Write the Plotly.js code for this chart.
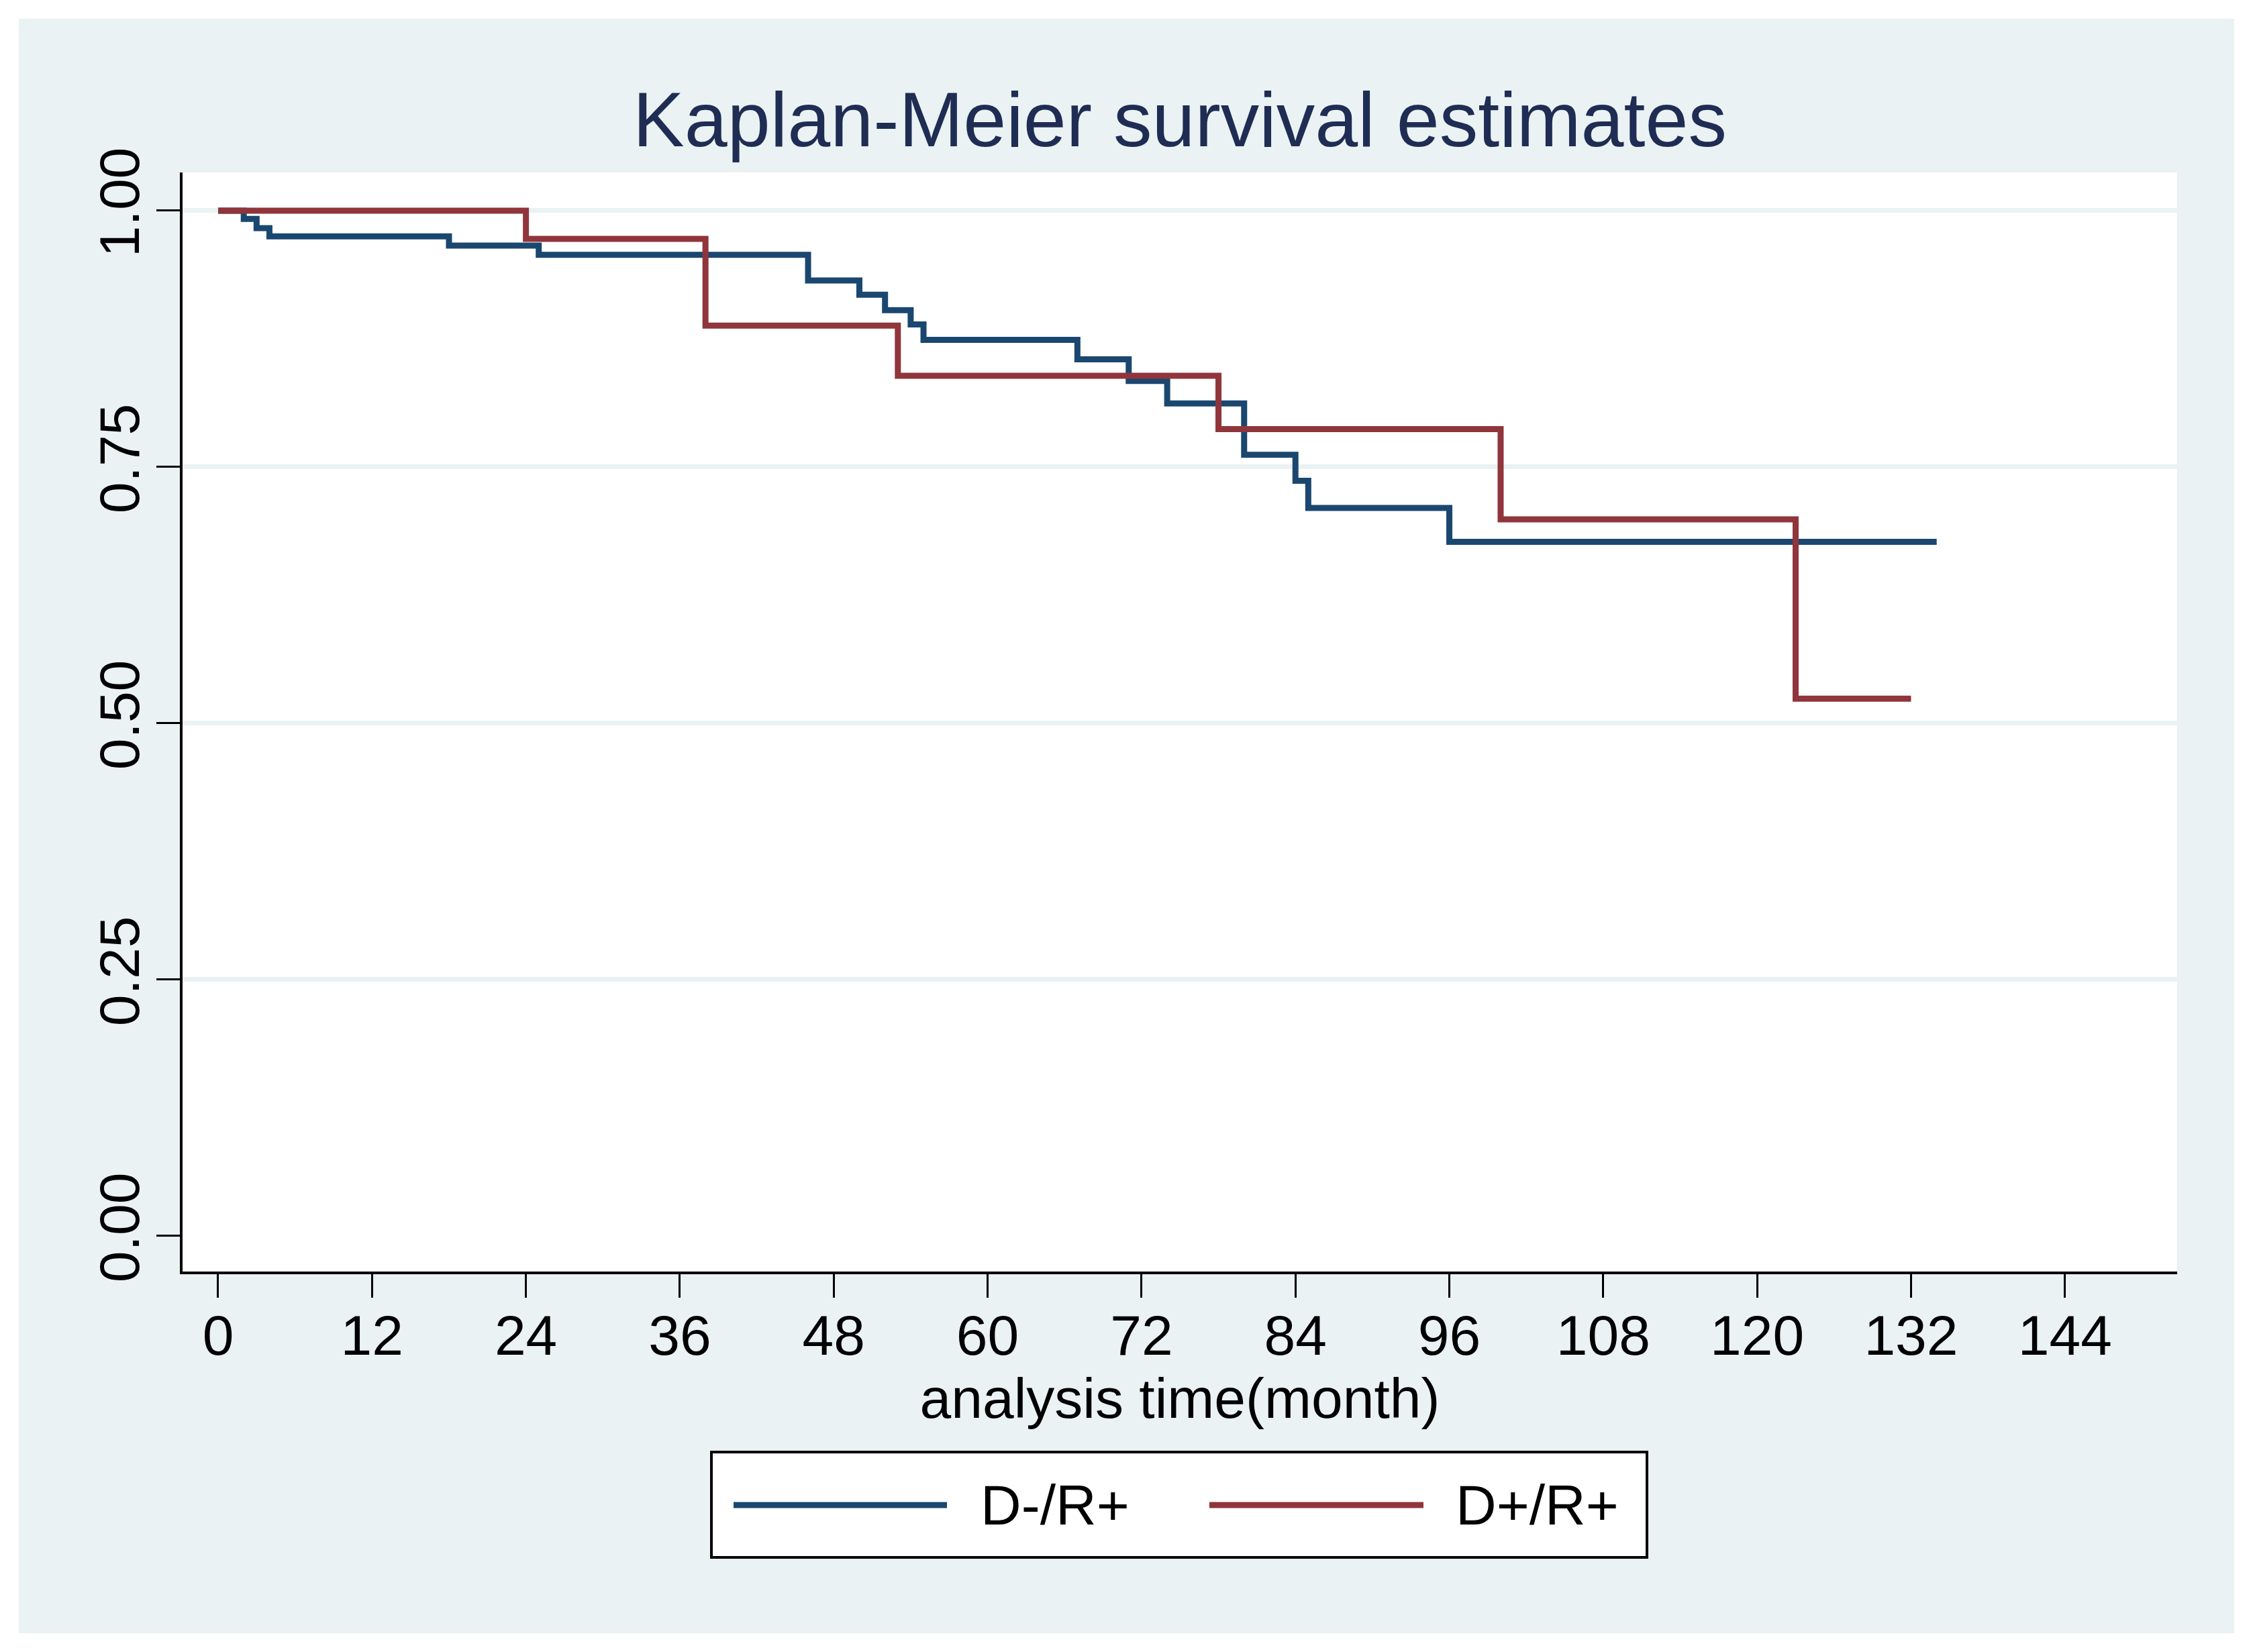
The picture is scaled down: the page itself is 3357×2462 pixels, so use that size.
<!DOCTYPE html>
<html>
<head>
<meta charset="utf-8">
<script src="https://cdn.plot.ly/plotly-3.0.1.min.js"></script>
<style>
  html, body { margin: 0; padding: 0; background: #ffffff; }
  #chart { width: 3357px; height: 2462px; }
</style>
</head>
<body>
<div id="chart"></div>
<script>
// ---- data ----
const seriesNames = ["D-/R+", "D+/R+"];
// D-/R+ : step times (months) and survival estimate after each step
const dnegTime = [0, 2, 3, 4, 18, 25, 46, 50, 52, 54, 55, 67, 71, 74, 80, 84, 85, 96, 134];
const dnegSurv = [1.000, 0.992, 0.983, 0.975, 0.966, 0.957, 0.932, 0.918, 0.903, 0.889, 0.874, 0.855, 0.834, 0.812, 0.762, 0.7365, 0.710, 0.677, 0.677];
// D+/R+
const dposTime = [0, 24, 38, 53, 78, 100, 123, 132];
const dposSurv = [1.000, 0.9725, 0.888, 0.839, 0.787, 0.699, 0.524, 0.524];

const xTickVals = [0, 12, 24, 36, 48, 60, 72, 84, 96, 108, 120, 132, 144];
const yTickVals = [0, 0.25, 0.5, 0.75, 1];
const yTickText = ["0.00", "0.25", "0.50", "0.75", "1.00"];

const chartTitle = "Kaplan-Meier survival estimates";
const xTitle = "analysis time(month)";

// ---- styling ----
const BLUE = "#1a476f";
const RED = "#90353b";
const BG = "#eaf2f3";
const FONT = "Liberation Sans, Arial, sans-serif";

const W = 3357, H = 2462;
const M = { l: 272, r: 113, t: 257, b: 567 };
const PW = W - M.l - M.r, PH = H - M.t - M.b;
const px2x = p => (p - M.l) / PW;
const py2y = p => (H - M.b - p) / PH;

const traces = [
  { x: dnegTime, y: dnegSurv, name: seriesNames[0], type: "scatter", mode: "lines",
    line: { shape: "hv", color: BLUE, width: 9 }, hoverinfo: "x+y+name" },
  { x: dposTime, y: dposSurv, name: seriesNames[1], type: "scatter", mode: "lines",
    line: { shape: "hv", color: RED, width: 9 }, hoverinfo: "x+y+name" }
];

// custom legend (long line samples as in the reference)
const legY = py2y(2243);
const shapes = [
  // white outer frame
  { type: "rect", xref: "paper", yref: "paper",
    x0: px2x(0), x1: px2x(W), y0: py2y(H), y1: py2y(0),
    line: { color: "#ffffff", width: 56 }, fillcolor: "rgba(0,0,0,0)", layer: "above" },
  // legend box
  { type: "rect", xref: "paper", yref: "paper",
    x0: px2x(1060), x1: px2x(2454), y0: py2y(2321), y1: py2y(2164),
    line: { color: "#000000", width: 4 }, fillcolor: "#ffffff", layer: "above" },
  { type: "line", xref: "paper", yref: "paper",
    x0: px2x(1093), x1: px2x(1411), y0: legY, y1: legY,
    line: { color: BLUE, width: 9 }, layer: "above" },
  { type: "line", xref: "paper", yref: "paper",
    x0: px2x(1802), x1: px2x(2121), y0: legY, y1: legY,
    line: { color: RED, width: 9 }, layer: "above" }
];

const annotations = [
  { xref: "paper", yref: "paper", x: px2x(1459), y: legY, xanchor: "left", yanchor: "middle",
    text: seriesNames[0], showarrow: false, font: { family: FONT, size: 84, color: "#000000" } },
  { xref: "paper", yref: "paper", x: px2x(2167), y: legY, xanchor: "left", yanchor: "middle",
    text: seriesNames[1], showarrow: false, font: { family: FONT, size: 84, color: "#000000" } }
];

const layout = {
  width: W, height: H,
  margin: M,
  paper_bgcolor: BG,
  plot_bgcolor: "#ffffff",
  showlegend: false,
  font: { family: FONT, size: 84, color: "#000000" },
  title: {
    text: chartTitle,
    font: { family: FONT, size: 115, color: "#1f2d54" },
    xref: "paper", x: 0.5, xanchor: "center",
    yref: "container", y: 1 - 218 / H, yanchor: "bottom"
  },
  xaxis: {
    range: [-2.773, 152.75],
    tickmode: "array", tickvals: xTickVals,
    ticks: "outside", ticklen: 35, tickwidth: 3, tickcolor: "#000000",
    ticklabelstandoff: -16,
    showline: true, linewidth: 4, linecolor: "#000000",
    showgrid: false, zeroline: false,
    tickfont: { family: FONT, size: 84, color: "#000000" },
    title: { text: xTitle, font: { family: FONT, size: 84, color: "#000000" }, standoff: 0 }
  },
  yaxis: {
    range: [-0.0347, 1.0373],
    tickmode: "array", tickvals: yTickVals, ticktext: yTickText,
    tickangle: -90,
    ticks: "outside", ticklen: 35, tickwidth: 3, tickcolor: "#000000",
    ticklabelstandoff: -8,
    showline: true, linewidth: 4, linecolor: "#000000",
    showgrid: true, gridcolor: BG, gridwidth: 7,
    zeroline: true, zerolinecolor: "#ffffff", zerolinewidth: 9,
    tickfont: { family: FONT, size: 84, color: "#000000" }
  },
  shapes: shapes,
  annotations: annotations
};

Plotly.newPlot("chart", traces, layout, { staticPlot: true, displayModeBar: false });
</script>
</body>
</html>
